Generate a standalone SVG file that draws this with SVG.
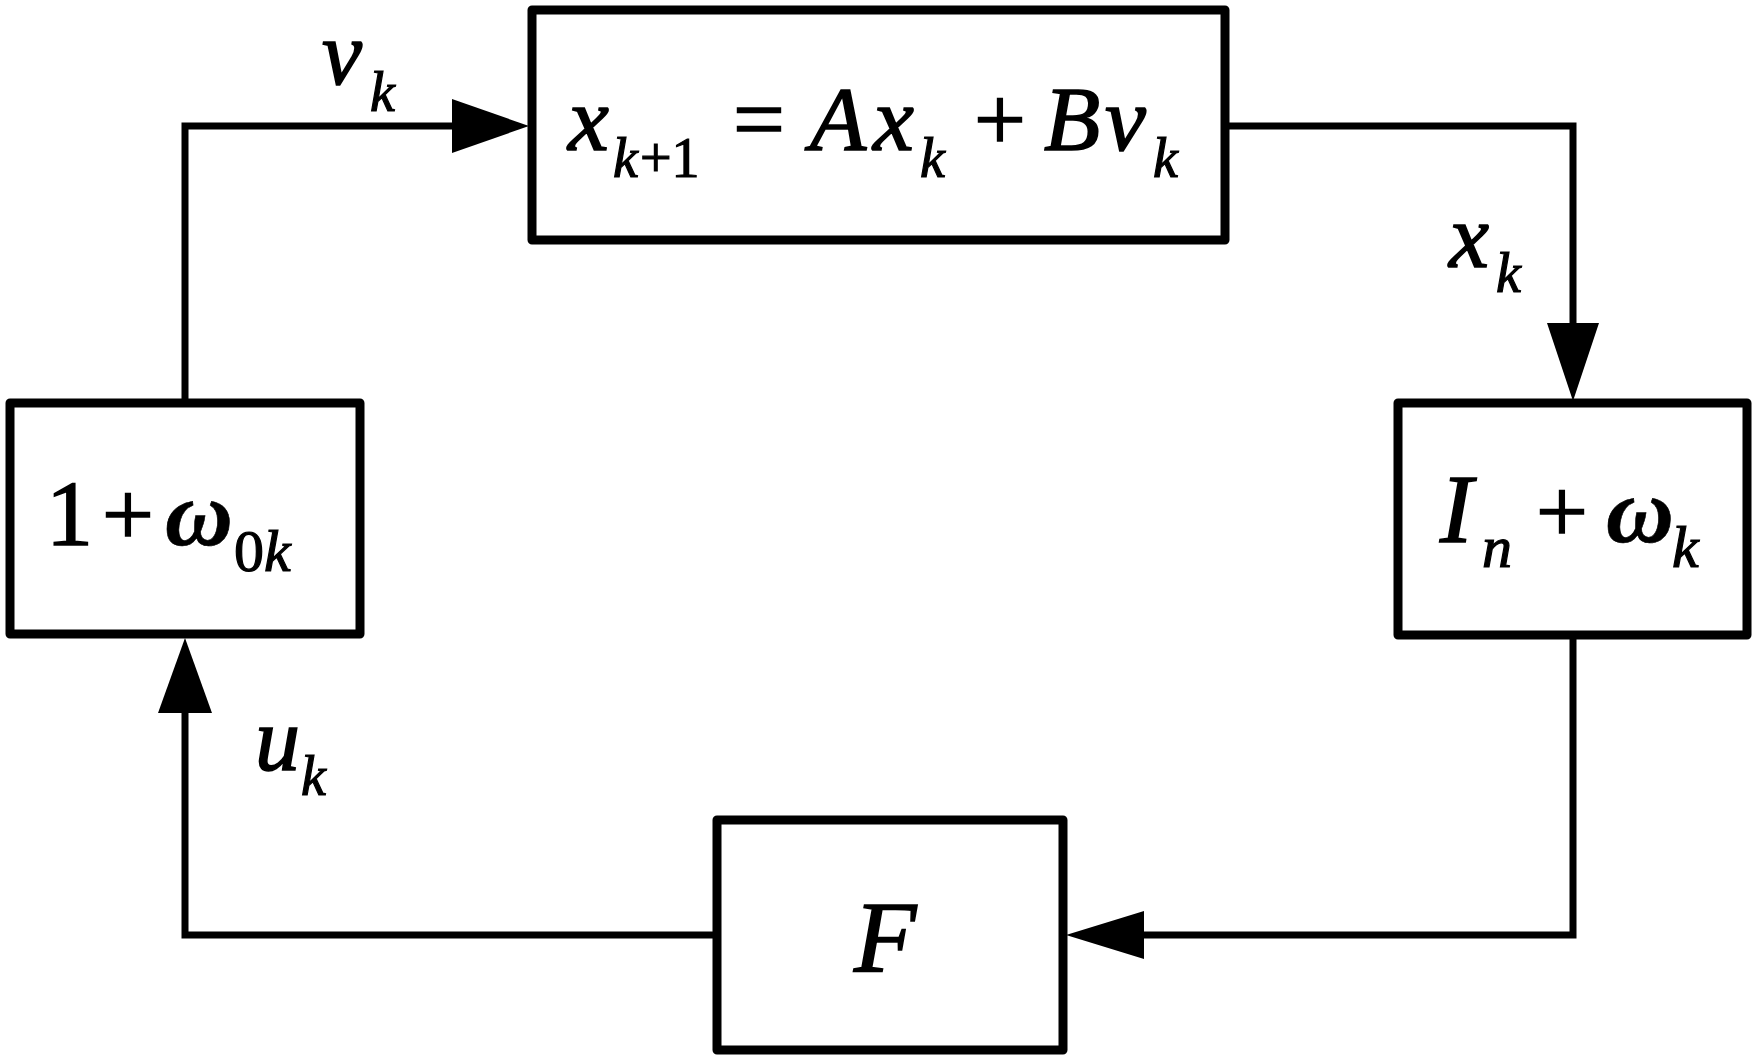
<svg xmlns="http://www.w3.org/2000/svg" width="1755" height="1063" viewBox="0 0 1755 1063">
<style>
.box{fill:#fff;stroke:#000;stroke-width:9;stroke-linejoin:round}
.ln{fill:none;stroke:#000;stroke-width:7}
.ah{fill:#000;stroke:none}
text{font-family:'Liberation Serif','Times New Roman',serif;fill:#000;stroke:#000;stroke-width:1.6}
.it{font-style:italic}
.bi{font-style:italic;font-weight:bold;stroke-width:0.6}
.up{font-style:normal}
.sub{stroke-width:1.2}
</style>
<rect width="1755" height="1063" fill="#fff"/>
<g id="connectors">
<polyline class="ln" points="185,403 185,126 455,126"/>
<polyline class="ln" points="1225,126 1573,126 1573,325"/>
<polyline class="ln" points="1573,635 1573,935 1142,935"/>
<polyline class="ln" points="717,935 185,935 185,711"/>
<polygon class="ah" points="529,126 452,99 452,153"/>
<polygon class="ah" points="1573,401 1547,323 1599,323"/>
<polygon class="ah" points="1066,935 1144,911 1144,959"/>
<polygon class="ah" points="185,638 158,713 212,713"/>
</g>
<g id="label-vk">
<text class="it" x="322" y="84" font-size="90">v</text>
<text class="it sub" x="370" y="111" font-size="56">k</text>
</g>
<g id="label-xk">
<text class="it" x="1449" y="267" font-size="90">x</text>
<text class="it sub" x="1496" y="292" font-size="56">k</text>
</g>
<g id="label-uk">
<text class="it" x="255" y="770" font-size="90">u</text>
<text class="it sub" x="301" y="795" font-size="56">k</text>
</g>
<g id="node-system">
<rect class="box" x="532" y="10" width="693" height="230"/>
<text class="it" x="568" y="150" font-size="92">x</text>
<text class="it sub" x="613" y="177" font-size="56">k</text>
<text class="up sub" x="640" y="177" font-size="56">+1</text>
<text class="up" x="733" y="150" font-size="92">=</text>
<text class="it" x="810" y="150" font-size="92">A</text>
<text class="it" x="873" y="150" font-size="92">x</text>
<text class="it sub" x="920" y="177" font-size="56">k</text>
<text class="up" x="974" y="150" font-size="92">+</text>
<text class="it" x="1044" y="150" font-size="92">B</text>
<text class="it" x="1105" y="150" font-size="92">v</text>
<text class="it sub" x="1153" y="177" font-size="56">k</text>
</g>
<g id="node-left">
<rect class="box" x="10" y="403" width="350" height="231"/>
<text class="up" x="46" y="545" font-size="94">1</text>
<text class="up" x="102" y="545" font-size="92">+</text>
<text class="bi" x="165" y="545" font-size="94">ω</text>
<text class="up sub" x="234" y="571" font-size="60">0</text>
<text class="it sub" x="264" y="571" font-size="60">k</text>
</g>
<g id="node-right">
<rect class="box" x="1398" y="403" width="349" height="232"/>
<text class="it" x="1440" y="542" font-size="98">I</text>
<text class="it sub" x="1482" y="567" font-size="60">n</text>
<text class="up" x="1536" y="542" font-size="92">+</text>
<text class="bi" x="1606" y="542" font-size="94">ω</text>
<text class="it sub" x="1672" y="567" font-size="60">k</text>
</g>
<g id="node-F">
<rect class="box" x="717" y="820" width="346" height="230"/>
<text class="it" x="854" y="972" font-size="102">F</text>
</g>
</svg>
